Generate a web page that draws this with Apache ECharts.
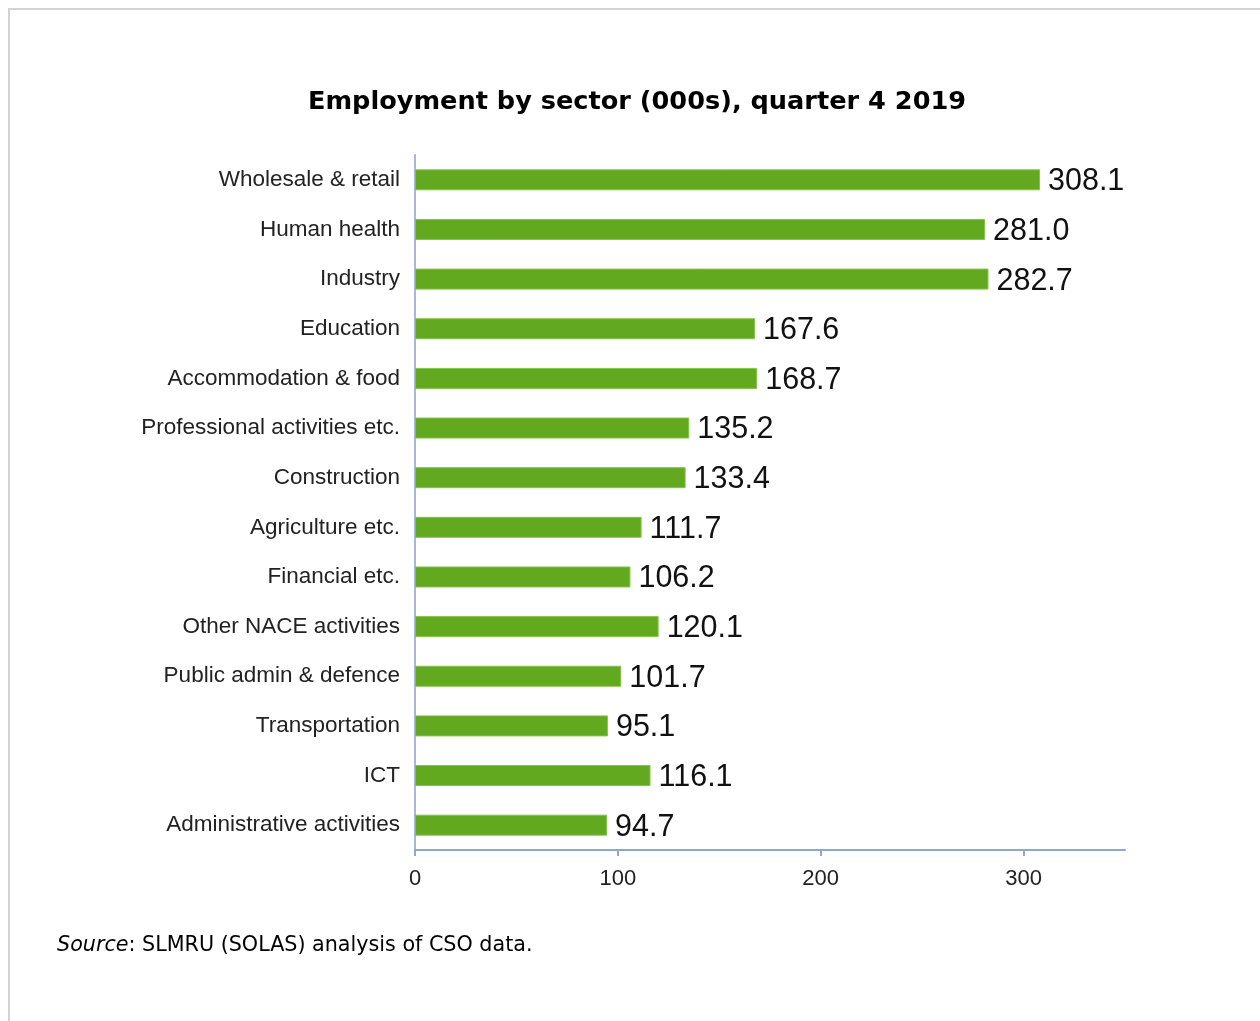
<!DOCTYPE html>
<html>
<head>
<meta charset="utf-8">
<title>Employment by sector (000s), quarter 4 2019</title>
<script src="https://cdn.jsdelivr.net/npm/echarts@6/dist/echarts.min.js"></script>
<style>
  html, body { margin: 0; padding: 0; background: #fff; }
  #chart { width: 1260px; height: 1021px; }
</style>
</head>
<body>
<div id="chart"></div>
<script>
// Sectors, top to bottom
const sectors = [
  'Wholesale & retail',
  'Human health',
  'Industry',
  'Education',
  'Accommodation & food',
  'Professional activities etc.',
  'Construction',
  'Agriculture etc.',
  'Financial etc.',
  'Other NACE activities',
  'Public admin & defence',
  'Transportation',
  'ICT',
  'Administrative activities'
];

// Persons employed, thousands
const employment = [308.1, 281.0, 282.7, 167.6, 168.7, 135.2, 133.4, 111.7, 106.2, 120.1, 101.7, 95.1, 116.1, 94.7];

// Value axis ticks
const xTicks = [0, 100, 200, 300];

const chart = echarts.init(document.getElementById('chart'), null, { renderer: 'canvas' });

chart.setOption({
  backgroundColor: '#ffffff',
  animation: false,
  graphic: [{
    type: 'rect',
    shape: { x: 9, y: 9, width: 1400, height: 1200 },
    style: { fill: 'none', stroke: '#d3d3d3', lineWidth: 2 },
    silent: true
  }, {
    type: 'text',
    left: 57,
    top: 935,
    style: {
      rich: {
        i: { fontFamily: 'DejaVu Sans', fontSize: 20.7, fontStyle: 'italic', fill: '#000' },
        n: { fontFamily: 'DejaVu Sans', fontSize: 20.7, fill: '#000' }
      },
      text: '{i|Source}{n|: SLMRU (SOLAS) analysis of CSO data.}'
    }
  }],
  title: {
    text: 'Employment by sector (000s), quarter 4 2019',
    left: 632,
    textAlign: 'center',
    top: 84,
    textStyle: {
      fontFamily: 'DejaVu Sans',
      fontSize: 25.6,
      fontWeight: 'bold',
      color: '#000'
    }
  },
  grid: {
    left: 415,
    right: 135,
    top: 155,
    bottom: 171,
    containLabel: false
  },
  xAxis: {
    type: 'value',
    min: 0,
    max: 350,
    interval: 100,
    splitLine: { show: false },
    axisLine: { show: true, lineStyle: { color: '#8fa6cf', width: 2 } },
    axisTick: { show: true, customValues: xTicks, length: 6, lineStyle: { color: '#8fa6cf', width: 2 } },
    axisLabel: {
      customValues: xTicks,
      margin: 18,
      fontFamily: 'Liberation Sans',
      fontSize: 22,
      color: '#222'
    }
  },
  yAxis: {
    type: 'category',
    data: sectors,
    inverse: true,
    axisLine: { show: true, lineStyle: { color: '#a9b8d6', width: 2 } },
    axisTick: { show: false },
    axisLabel: {
      margin: 15,
      fontFamily: 'Liberation Sans',
      fontSize: 22.5,
      color: '#222'
    }
  },
  series: [{
    type: 'bar',
    data: employment,
    barWidth: 21,
    itemStyle: {
      color: '#63a91f',
      borderColor: '#86c24a',
      borderWidth: 1
    },
    label: {
      show: true,
      position: 'right',
      distance: 8,
      offset: [0, 2],
      formatter: p => p.value.toFixed(1),
      fontFamily: 'Liberation Sans',
      fontSize: 30.5,
      color: '#111'
    }
  }]
});
</script>
</body>
</html>
